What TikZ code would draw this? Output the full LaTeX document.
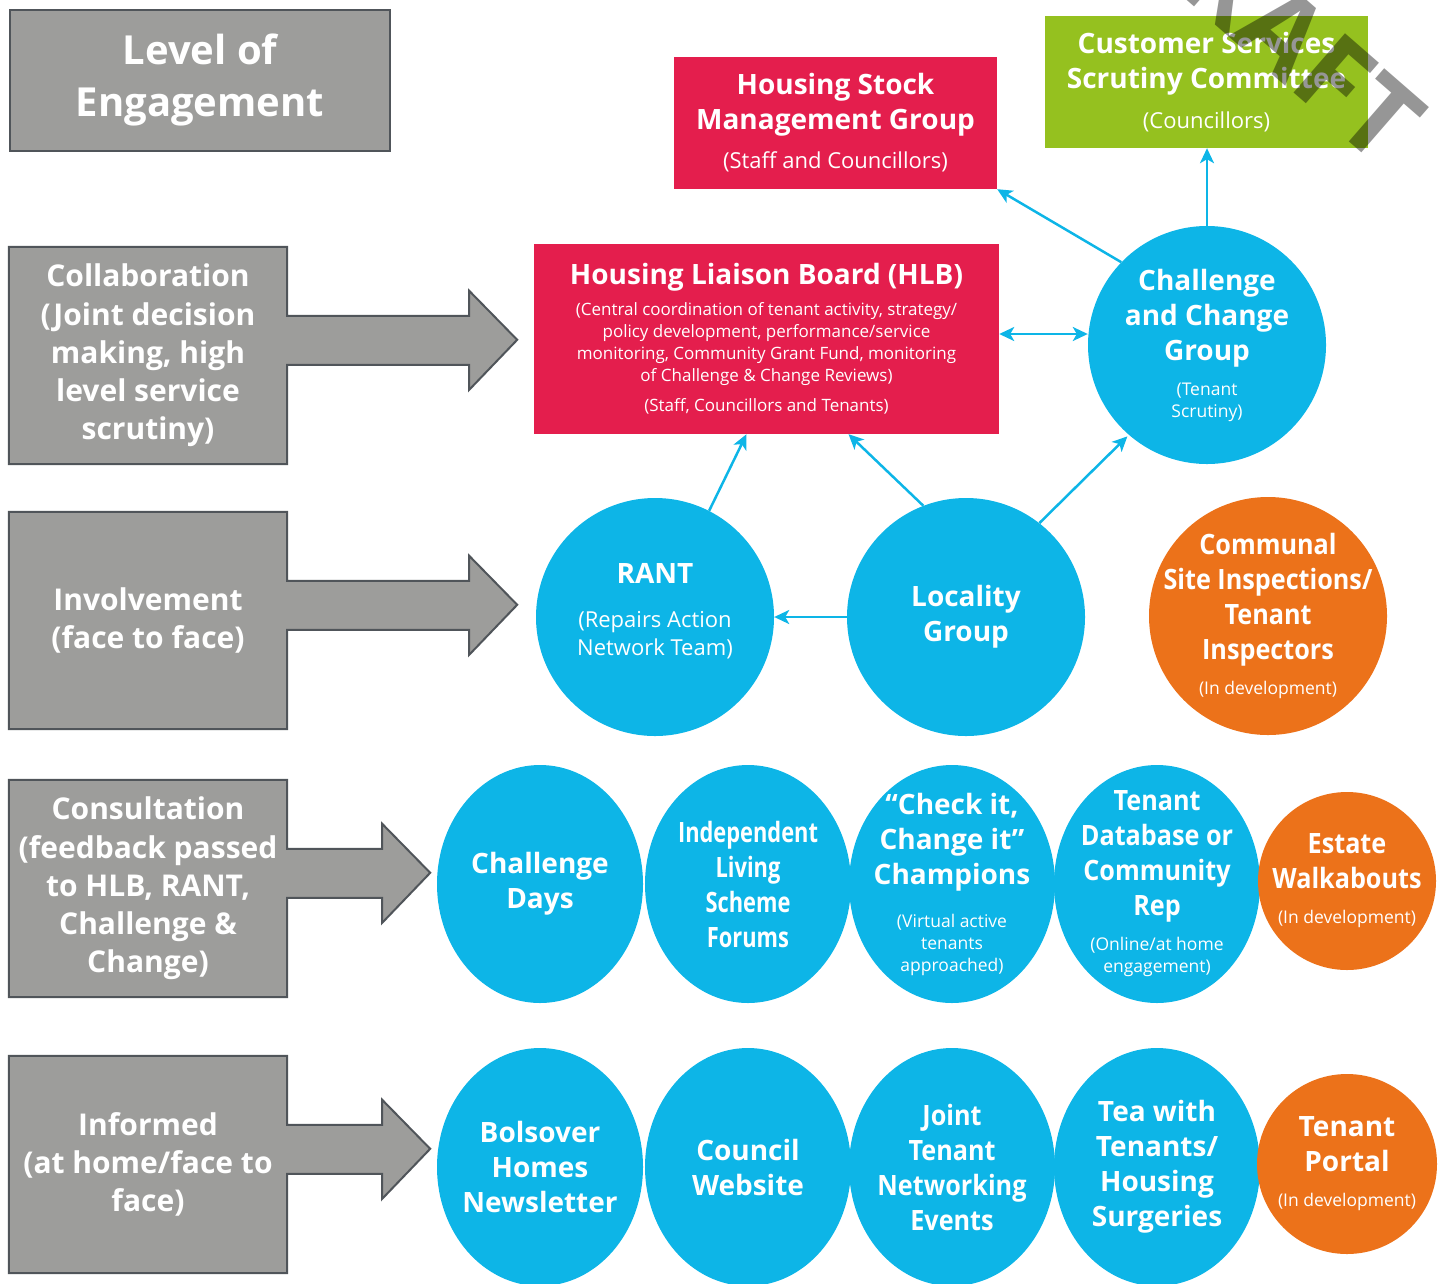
\documentclass[tikz,border=0pt]{standalone}
\usepackage{fontspec}
\setmainfont{Open Sans}
\newfontfamily\narrowfont[FakeStretch=0.78]{Open Sans}
\newfontfamily\semifont[FakeStretch=0.9]{Open Sans}
\usetikzlibrary{shapes.geometric,arrows.meta,backgrounds}

\definecolor{levelgray}{RGB}{157,157,155}
\definecolor{leveledge}{RGB}{80,85,90}
\definecolor{boardred}{RGB}{228,30,77}
\definecolor{scrutinygreen}{RGB}{149,193,31}
\definecolor{tenantblue}{RGB}{13,181,231}
\definecolor{devorange}{RGB}{236,114,26}
\definecolor{draftgray}{RGB}{150,150,150}

\newcommand\headfont{\fontsize{28}{35}\selectfont\bfseries}
\newcommand\notefont{\rmfamily\fontsize{17.5}{22}\selectfont\mdseries}
\newcommand\midfont{\fontsize{22}{28}\selectfont\mdseries}
\newcommand\boardnote{\fontsize{17}{22}\selectfont\mdseries}

% box and arrow of one level, #2 = length of the shaft
\newcommand\levelarrow[2]{\draw[levelshape] (#1.north west) -- (#1.north east) -- ++(0,69) -- ++(#2,0) -- ++(0,-25) -- ++(48,49) -- ++(-48,50) -- ++(0,-25) -- ++(-#2,0) -- (#1.south east) -- (#1.south west) -- cycle;}

\begin{document}
\begin{tikzpicture}[x=1pt, y=-1pt]
	\tikzset{levelhead/.style={rectangle, draw=leveledge, line width=2pt, fill=levelgray, text=white, align=center, inner sep=0pt, minimum width=380pt, minimum height=141pt, font=\fontsize{40}{52}\selectfont\bfseries},
		levelbox/.style={rectangle, text=white, align=center, inner sep=0pt, minimum width=278pt, minimum height=217pt, font=\fontsize{30}{38.3}\selectfont\bfseries},
		levelshape/.style={draw=leveledge, line width=2pt, fill=levelgray},
		groupbox/.style={rectangle, text=white, align=center, inner sep=0pt, font=\headfont},
		bubble/.style={circle, fill=tenantblue, text=white, align=center, inner sep=-60pt, minimum size=238pt, font=\headfont},
		oval/.style={ellipse, fill=tenantblue, text=white, align=center, inner sep=-60pt, minimum width=206pt, minimum height=238pt, font=\headfont},
		devbubble/.style={bubble, fill=devorange},
		link/.style={draw=tenantblue, line width=2.5pt, -{Stealth[length=15pt, width=14pt, inset=4pt]}},
		draftmark/.style={anchor=base east, rotate=-41, inner sep=0pt, text=draftgray, font=\fontsize{110}{110}\selectfont\bfseries}};
	\useasboundingbox (0,0) rectangle (1447,1283);
	\clip (0,0) rectangle (1447,1283);

	\node[levelhead] (level) at (200,80) {Level of\\Engagement};
	\node[levelbox] (collab) at (148,355.5) {Collaboration\\(Joint decision\\making, high\\level service\\scrutiny)};
	\node[levelbox] (involve) at (148,620.5) {Involvement\\(face to face)};
	\node[levelbox] (consult) at (148,888.5) {Consultation\\(feedback passed\\to HLB, RANT,\\Challenge \&\\Change)};
	\node[levelbox] (inform) at (148,1164.5) {Informed\\(at home/face to\\face)};
	\begin{pgfonlayer}{background}
		\levelarrow{collab}{182}
		\levelarrow{involve}{182}
		\levelarrow{consult}{95}
		\levelarrow{inform}{95}
	\end{pgfonlayer}

	\node[groupbox, fill=boardred, minimum width=323pt, minimum height=132pt] (hsmg) at (835.5,123) {Housing Stock\\Management Group\\[4pt]\midfont (Staff and Councillors)};
	\node[groupbox, fill=scrutinygreen, minimum width=323pt, minimum height=132pt] (cssc) at (1206.5,82) {Customer Services\\Scrutiny Committee\\[5pt]\midfont (Councillors)};
	\node[groupbox, fill=boardred, minimum width=465pt, minimum height=190pt] (hlb) at (766.5,339) {Housing Liaison Board (HLB)\\[-4pt]\boardnote (Central coordination of tenant activity, strategy/\\[-13pt]\boardnote policy development, performance/service\\[-13pt]\boardnote monitoring, Community Grant Fund, monitoring\\[-13pt]\boardnote of Challenge \& Change Reviews)\\[-5pt]\boardnote (Staff, Councillors and Tenants)};

	\node[bubble] (ccg) at (1207,345) {Challenge\\and Change\\Group\\[0pt]\notefont (Tenant\\[-13pt]\notefont Scrutiny)};
	\node[bubble] (rant) at (655,617) {RANT\\[9pt]\midfont (Repairs Action\\[-7pt]\midfont Network Team)\\[-20pt]};
	\node[bubble] (locality) at (966,617) {Locality\\Group};
	\node[devbubble, font={\semifont\headfont}] (communal) at (1268,616) {Communal\\Site Inspections/\\Tenant\\Inspectors\\[0pt]\notefont (In development)};

	\node[oval] (chdays) at (540,884) {Challenge\\Days};
	\node[oval, font={\narrowfont\headfont}] (indep) at (748,884) {Independent\\Living\\Scheme\\Forums};
	\node[oval] (checkit) at (952,884) {“Check it,\\Change it”\\Champions\\[8pt]\notefont (Virtual active\\[-13pt]\notefont tenants\\[-13pt]\notefont approached)};
	\node[oval, font={\semifont\headfont}] (tenantdb) at (1157,884) {Tenant\\Database or\\Community\\Rep\\[0pt]\notefont (Online/at home\\[-13pt]\notefont engagement)};
	\node[devbubble, minimum size=178pt, font={\semifont\headfont}] (estate) at (1347,881) {Estate\\Walkabouts\\[0pt]\notefont (In development)};

	\node[oval] (bolsover) at (540,1167) {Bolsover\\Homes\\Newsletter};
	\node[oval] (council) at (748,1167) {Council\\Website};
	\node[oval, font={\semifont\headfont}] (joint) at (952,1167) {Joint\\Tenant\\Networking\\Events};
	\node[oval] (tea) at (1157,1167) {Tea with\\Tenants/\\Housing\\Surgeries};
	\node[devbubble, minimum size=180pt] (portal) at (1347,1164) {Tenant\\Portal\\[0pt]\notefont (In development)};

	\draw[link] (ccg.136) -- (hsmg.south east);
	\draw[link] (ccg.north) -- (cssc.south -| ccg.north);
	\draw[link, {Stealth[length=15pt, width=14pt, inset=4pt]}-{Stealth[length=15pt, width=14pt, inset=4pt]}] ([yshift=5pt]hlb.east) -- ([yshift=11pt]ccg.west);
	\draw[link] (rant.63) -- ([xshift=-20pt]hlb.south);
	\draw[link] (locality.111) -- ([xshift=82pt]hlb.south);
	\draw[link, shorten >=2pt] (locality.52) -- (ccg.229);
	\draw[link] (locality.west) -- (rant.east);

	\begin{scope}[blend mode=multiply]
		\node[draftmark] (draft) at (1380,168) {DRAFT};
	\end{scope}
\end{tikzpicture}
\end{document}
